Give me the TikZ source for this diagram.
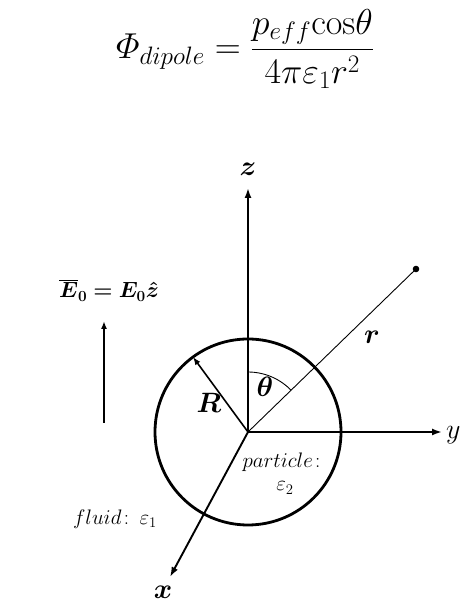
\RequirePackage{fix-cm}
\documentclass[tikz,border=0pt]{standalone}
\usepackage{amsmath,bm}
\usepackage{tikz}
\usetikzlibrary{arrows.meta,positioning,calc}
\tikzset{
  axis/.style={line width=1.9pt,-{Latex[length=10pt,width=7pt]}},
  thin/.style={line width=0.9pt},
  lbl/.style={font=\fontsize{28}{32}\selectfont,inner sep=0pt},
  txt/.style={font=\fontsize{21}{25}\selectfont,inner sep=0pt},
}
\begin{document}
\begin{tikzpicture}[x=1pt,y=1pt]
\useasboundingbox (0,0) rectangle (459,610);

% formula
\node[inner sep=0pt,font=\fontsize{36}{40}\selectfont] (eq) at (245,561)
  {$\varPhi_{dipole}=\dfrac{p_{eff}\mathrm{cos}\theta}{4\pi\varepsilon_1 r^2}$};

% centre and axis ends
\coordinate (O) at (248,178);
\coordinate (ztip) at (248,422);
\coordinate (ytip) at (442,178);
\coordinate (xtip) at (170,33);
\coordinate (P) at (416,341);
\coordinate (Rtip) at (193,253);

% particle
\draw[line width=2.8pt] (O) circle (93);

% axes
\draw[axis] (O) -- (ztip);
\draw[axis] (O) -- (ytip);
\draw[axis] (O) -- (xtip);
\node[lbl] (zl) at (248,441) {$\bm{z}$};
\node[lbl,anchor=west] (yl) at (446,175) {$y$};
\node[lbl] (xl) at (163,18) {$\bm{x}$};

% position vector r
\draw[thin] (O) -- (P);
\fill (P) circle (3.3);
\node[lbl] (rl) at (372,273) {$\bm{r}$};
\draw[thin] ($(O)+(90:60)$) arc (90:44:60);
\node[lbl] (thl) at (265,223) {$\bm{\theta}$};

% radius R
\draw[line width=1.6pt,-{Latex[length=8pt,width=6pt]}] (O) -- (Rtip);
\node[lbl] (Rl) at (209,207) {$\bm{R}$};

% applied field
\coordinate (Ebot) at (104,187);
\coordinate (Etop) at (104,289);
\draw[line width=1.9pt,-{Latex[length=8pt,width=6pt]}] (Ebot) -- (Etop);
\node[inner sep=0pt,font=\fontsize{22}{26}\selectfont] (El) at (109,320)
  {$\bm{\overline{E}_0=E_0\hat{z}}$};

% media
\node[txt] (pl) at (285,148) {$particle\colon$};
\node[txt] (pe) at (285,122) {$\varepsilon_2$};
\node[txt] (fl) at (115,91) {$fluid\colon\,\varepsilon_1$};
\end{tikzpicture}
\end{document}
